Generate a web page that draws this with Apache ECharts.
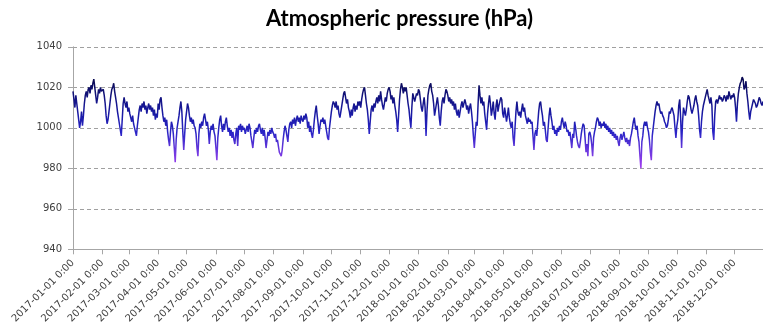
<!DOCTYPE html>
<html><head><meta charset="utf-8">
<script src="https://cdn.jsdelivr.net/npm/echarts@6/dist/echarts.min.js"></script>
<style>html,body{margin:0;padding:0;background:#fff}#c{width:763px;height:334px}</style>
</head><body><div id="c"></div>
<script>
const title = 'Atmospheric pressure (hPa)';
const startDate = '2017-01-01';
const endDate = '2018-12-31';
const yTicks = [940, 960, 980, 1000, 1020, 1040];

// daily pressure readings (hPa)
const p2017Q1 = [
  1018,1014,1010,1016,1012,1008,1004,1000,1003,1008,1001,1006,1012,1016,1018,1015,1019,1020,1017,1021,1019,1022,1024,1020,1016,1012,1015,1019,1017,1020,1018,
  1018,1019,1016,1012,1006,1002,1004,1008,1012,1016,1019,1020,1022,1018,1015,1012,1008,1005,1002,999,996,1004,1012,1015,1012,1010,1013,1008,
  1010,1007,1005,1003,1006,1002,1000,998,996,1001,1005,1009,1011,1008,1012,1010,1013,1009,1011,1007,1010,1012,1009,1011,1008,1010,1006,1009,1004,1007,1005
];
const p2017Q2 = [
  1012,1009,1014,1015,1010,1006,1003,1005,1001,1004,998,994,991,998,1003,1001,997,990,983,994,1000,1003,1006,1010,1013,1008,998,989,997,1004,
  1008,1012,1010,1006,1003,1005,1002,1004,1001,1000,997,990,986,997,1002,1000,1003,1001,1005,1007,1004,1001,1003,999,992,998,1001,999,1002,998,996,
  990,984,995,1000,1004,1006,1001,998,1002,999,1003,1005,1001,998,1000,996,999,995,998,994,992,997,1000,991,1001,999,1002,998,1001,999
];
const p2017Q3 = [
  1000,997,999,1001,998,1002,1000,996,993,990,995,999,997,1000,998,1001,1002,999,997,1000,996,999,995,990,994,998,996,999,997,1000,998,
  997,995,997,993,994,991,988,987,986,989,994,998,1001,999,996,993,999,1002,1003,1000,1004,1002,1005,1001,1004,1006,1003,1005,1002,1006,1004,
  1003,1006,1004,1007,1005,1000,1003,998,1001,997,995,999,1004,1008,1011,1006,1002,997,1001,1004,1003,1005,1002,1004,1001,998,995,994,1000,1004
];
const p2017Q4 = [
  1008,1011,1013,1012,1010,1013,1009,1011,1007,1005,1008,1011,1014,1017,1018,1015,1012,1014,1010,1008,1005,1009,1006,1010,1012,1008,1011,1009,1013,1011,1013,
  1010,1014,1017,1019,1020,1016,1012,1009,1004,997,1003,1009,1011,1008,1012,1010,1013,1015,1012,1016,1013,1018,1014,1011,1009,1012,1015,1013,1017,1019,
  1020,1018,1014,1016,1012,1015,1011,1008,1004,998,1006,1014,1019,1022,1020,1017,1020,1018,1020,1016,1012,1009,1004,1000,1010,1017,1015,1013,1015,1017,1016
];
const p2018Q1 = [
  1019,1018,1014,1010,1008,1012,1015,1010,996,1008,1016,1019,1021,1022,1018,1016,1012,1006,1009,1012,1015,1011,1005,1001,1008,1013,1015,1012,1016,1019,1018,
  1016,1013,1015,1012,1014,1011,1013,1009,1012,1008,1006,1009,1005,1008,1011,1013,1010,1012,1014,1012,1009,1011,1007,1010,1012,1008,1003,996,
  990,997,1003,1001,1012,1021,1016,1012,1015,1011,1013,1007,1003,999,1007,1012,1016,1012,1006,1009,1013,1007,1004,1011,1014,1008,1011,1013,1015,1014,1007
];
const p2018Q2 = [
  1005,1010,1007,1003,1006,1010,1005,1002,1000,1003,995,991,1000,1008,1013,1008,1006,1008,1005,1009,1012,1008,1010,1006,1004,1002,1005,1003,1004,1002,
  1003,996,989,997,999,996,1002,1008,1012,1013,1009,1006,1001,1003,999,994,993,1000,1006,1010,1006,1003,999,1001,997,999,996,1000,998,1001,999,
  1003,1005,1002,1000,1003,1001,998,999,996,998,994,990,997,995,1003,1000,996,993,991,990,993,997,1000,1002,1001,995,988,992,986,997
];
const p2018Q3 = [
  998,996,992,986,995,998,1000,1003,1005,1004,1001,1003,1000,1002,1001,1003,1000,1002,999,1001,998,1000,997,999,996,998,995,997,994,996,993,
  991,995,997,994,996,998,995,993,995,992,994,991,995,997,1000,1003,1005,1001,999,1001,996,993,986,980,993,996,1001,1003,1001,1003,1000,
  998,994,988,984,996,1000,1004,1008,1011,1013,1011,1012,1009,1007,1008,1006,1005,1003,1002,1000,1001,1004,1008,1007,1009,1010,1008,1006,1000,995
];
const p2018Q4 = [
  1001,1004,1011,1014,1005,990,1003,1010,1008,1006,1009,1013,1016,1015,1012,1009,1007,1009,1011,1014,1016,1013,1011,1006,999,995,1003,1008,1011,1013,1015,
  1017,1019,1016,1014,1012,1015,1011,998,994,1006,1013,1014,1012,1014,1016,1014,1015,1013,1014,1016,1015,1013,1016,1014,1018,1016,1014,1016,1015,1017,
  1015,1010,1003,1012,1017,1020,1022,1023,1025,1024,1019,1020,1023,1017,1013,1008,1004,1008,1010,1012,1014,1013,1012,1010,1011,1013,1015,1014,1012,1011,1013
];

const values = [].concat(p2017Q1, p2017Q2, p2017Q3, p2017Q4, p2018Q1, p2018Q2, p2018Q3, p2018Q4);

// daily category labels
const categories = [];
(function () {
  const d = new Date(startDate + 'T00:00:00Z');
  const end = new Date(endDate + 'T00:00:00Z');
  while (d <= end) {
    categories.push(d.toISOString().slice(0, 10));
    d.setUTCDate(d.getUTCDate() + 1);
  }
})();

const isMonthStart = (i, v) => String(v).slice(8, 10) === '01';

const chart = echarts.init(document.getElementById('c'), null, { renderer: 'canvas' });
chart.setOption({
  animation: false,
  backgroundColor: '#ffffff',
  title: {
    text: title,
    left: 261, top: 3,
    textStyle: { fontFamily: 'Lato', fontWeight: 'bold', fontSize: 22, color: '#000000' }
  },
  grid: { left: 73, top: 46.8, right: -8.4, bottom: 84.7 },
  visualMap: {
    show: false, type: 'continuous', seriesIndex: 0, dimension: 1,
    min: 980, max: 1024,
    inRange: { color: ['#a23cf0', '#6a38de', '#2a24c6', '#1a1aa6', '#12127e', '#0a0a52'] }
  },
  xAxis: {
    type: 'category', data: categories, boundaryGap: false,
    axisLine: { lineStyle: { color: '#a6a6a6', width: 1 } },
    axisTick: { show: true, interval: isMonthStart, length: 5, lineStyle: { color: '#a6a6a6' } },
    axisLabel: {
      interval: isMonthStart, rotate: 45, margin: 12,
      fontFamily: 'DejaVu Sans', fontSize: 10, color: '#404040',
      formatter: v => v + ' 0:00'
    },
    splitLine: { show: false }
  },
  yAxis: {
    type: 'value', min: yTicks[0], max: yTicks[yTicks.length - 1], interval: 20,
    axisLine: { show: true, lineStyle: { color: '#a6a6a6', width: 1 } },
    axisTick: { show: true, length: 5, lineStyle: { color: '#a6a6a6' } },
    axisLabel: { margin: 11, fontFamily: 'DejaVu Sans', fontSize: 10, color: '#404040', formatter: v => String(v) },
    splitLine: { show: true, lineStyle: { color: '#a0a0a0', type: [4, 3], width: 1 } }
  },
  series: [{
    type: 'line', data: values, showSymbol: false, symbol: 'none',
    lineStyle: { width: 1.5 }
  }]
});
</script></body></html>
